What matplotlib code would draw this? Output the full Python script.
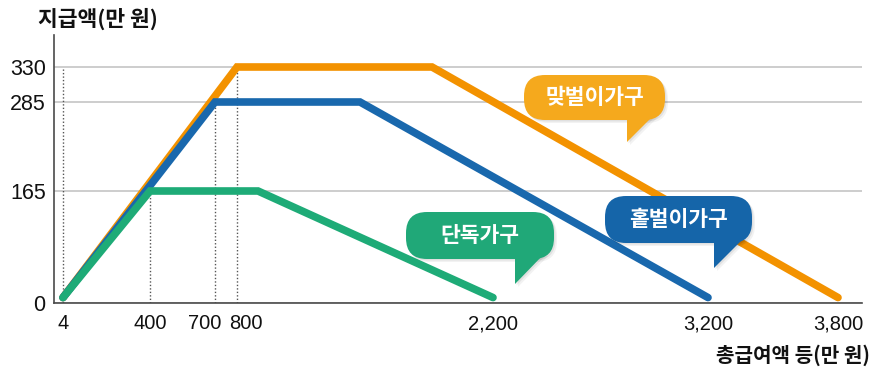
import numpy as np
import matplotlib
matplotlib.use("Agg")
import matplotlib.pyplot as plt
from matplotlib.patches import FancyBboxPatch, Polygon
from matplotlib.transforms import Affine2D, ScaledTranslation

plt.rcParams['font.family'] = ['Noto Sans CJK KR', 'DejaVu Sans']

# 총급여액 등(만 원) -> 지급액(만 원)
single_x = [4, 400, 900, 2200]
single_y = [8, 165, 165, 8]
one_x = [4, 700, 1400, 3200]
one_y = [8, 285, 285, 8]
two_x = [4, 800, 1700, 3800]
two_y = [8, 330, 330, 8]

x_ticks = [4, 400, 700, 800, 2200, 3200, 3800]
x_labels = ['4', '400', '700', '800', '2,200', '3,200', '3,800']
y_ticks = [0, 165, 285, 330]
y_labels = ['0', '165', '285', '330']

# the drawing is not to scale, so the axes are piecewise linear
x_knots = [-200, 4, 400, 700, 800, 900, 1400, 1700, 2200, 3200, 3800, 4200]
x_pos = [18, 63, 150, 215, 237, 258, 360, 432, 493, 708, 838, 925]
y_knots = [-100, 0, 165, 285, 330, 500]
y_pos = [-68, 0, 112, 201, 236, 364]


def fwd_x(v):
    return np.interp(v, x_knots, x_pos)


def inv_x(p):
    return np.interp(p, x_pos, x_knots)


def fwd_y(v):
    return np.interp(v, y_knots, y_pos)


def inv_y(p):
    return np.interp(p, y_pos, y_knots)


orange = '#f39200'
blue = '#1968ad'
green = '#1eab77'

W, H = 873, 370
fig = plt.figure(figsize=(W / 100, H / 100), dpi=100)
ax = fig.add_axes([54 / W, (H - 303) / H, 808 / W, 268 / H])
ax.set_xscale('function', functions=(fwd_x, inv_x))
ax.set_yscale('function', functions=(fwd_y, inv_y))
ax.set_xlim(inv_x(54), inv_x(862))
ax.set_ylim(0, inv_y(268))

ax.grid(axis='y', color='#c9c9c9', lw=1.3)
ax.set_axisbelow(True)

# dotted guides
for gx, gy in [(4, 330), (single_x[1], single_y[1]), (one_x[1], one_y[1]), (two_x[1], two_y[1])]:
    ax.plot([gx, gx], [0, gy], ls=(0, (1, 1.5)), color='#555555', lw=1, zorder=1)

ax.plot(two_x, two_y, color=orange, lw=5.5, solid_capstyle='round', solid_joinstyle='miter', zorder=2)
ax.plot(one_x, one_y, color=blue, lw=5.5, solid_capstyle='round', solid_joinstyle='miter', zorder=3)
ax.plot(single_x, single_y, color=green, lw=5.5, solid_capstyle='round', solid_joinstyle='miter', zorder=4)

ax.set_xticks(x_ticks)
ax.set_xticklabels(x_labels, family='Liberation Sans')
ax.set_yticks(y_ticks)
ax.set_yticklabels(y_labels, family='Liberation Sans')
ax.tick_params(axis='x', length=0, pad=8, labelsize=14.5, labelcolor='#111111')
ax.tick_params(axis='y', length=0, pad=6, labelsize=15.5, labelcolor='#111111')
xl = ax.get_xticklabels()
xl[2].set_transform(xl[2].get_transform() + ScaledTranslation(-0.10, 0, fig.dpi_scale_trans))
xl[3].set_transform(xl[3].get_transform() + ScaledTranslation(0.09, 0, fig.dpi_scale_trans))

for s in ['top', 'right']:
    ax.spines[s].set_visible(False)
for s in ['left', 'bottom']:
    ax.spines[s].set_color('#4a4a4a')
    ax.spines[s].set_linewidth(1.2)

fig.text(38 / W, 1 - 19 / H, '지급액(만 원)', fontsize=15.5, fontweight='bold', ha='left', va='center', color='#111111')
fig.text(870 / W, 1 - 355 / H, '총급여액 등(만 원)', fontsize=14.5, fontweight='bold', ha='right', va='center', color='#111111')

# speech bubbles, laid out in picture pixels
px = Affine2D().scale(1 / W, -1 / H).translate(0, 1) + fig.transFigure


def bubble(x0, y0, x1, y1, tail_x, tail_tip, tail_r, text, color):
    for dx, c, a, z in [(3, '#000000', 0.05, 5), (1.5, '#000000', 0.07, 5), (0, color, 1, 6)]:
        box = FancyBboxPatch((x0 + dx, y0 + dx), x1 - x0, y1 - y0,
                             boxstyle='round,pad=0,rounding_size=21',
                             fc=c, ec='none', alpha=a, transform=px, zorder=z)
        fig.add_artist(box)
        tail = Polygon([(tail_x + dx, y1 - 6 + dx), (tail_x + dx, tail_tip + dx),
                        (tail_r + dx, y1 - 6 + dx)], closed=True,
                       fc=c, ec='none', alpha=a, transform=px, zorder=z)
        fig.add_artist(tail)
    fig.text((x0 + x1) / 2 / W, 1 - (y0 + y1) / 2 / H, text, fontsize=15.5, fontweight='bold',
             color='white', ha='center', va='center', zorder=7)


bubble(524, 75, 665, 120, 627, 142, 655, '맞벌이가구', '#f5a91d')
bubble(605, 196, 752, 243, 714, 268, 745, '홑벌이가구', '#1565a9')
bubble(406, 212, 554, 259, 515, 284, 545, '단독가구', '#20a878')

fig.savefig('out.png', dpi=100)
